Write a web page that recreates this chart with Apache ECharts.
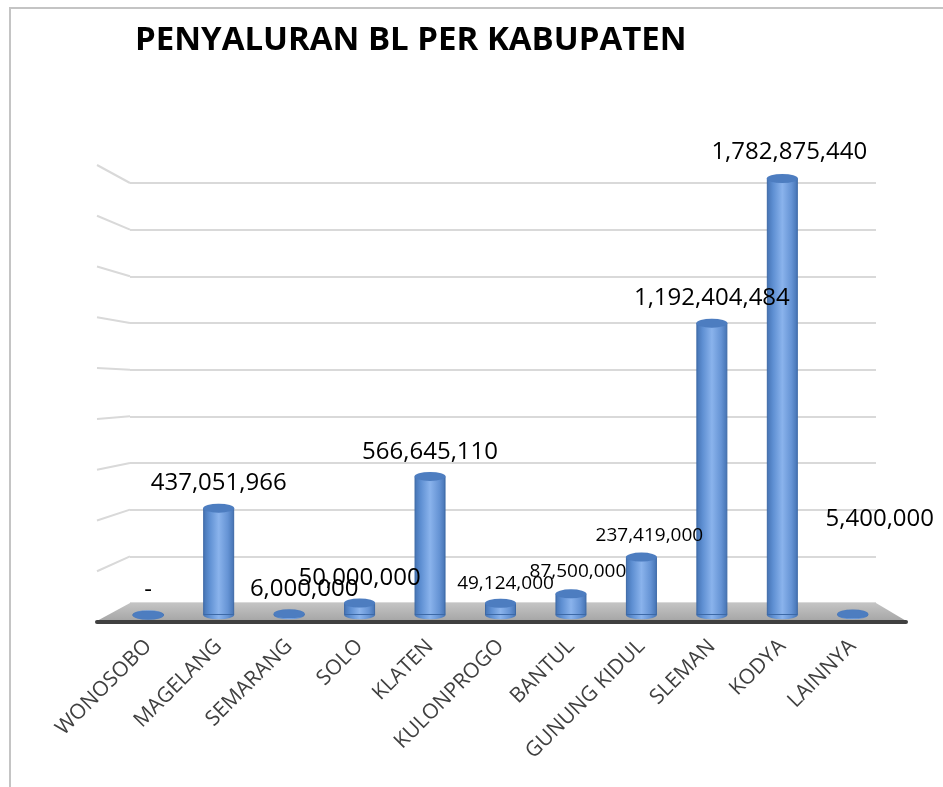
<!DOCTYPE html>
<html>
<head>
<meta charset="utf-8">
<title>Penyaluran BL per Kabupaten</title>
<script src="https://cdn.jsdelivr.net/npm/echarts@6/dist/echarts.min.js"></script>
<style>
  html, body { margin: 0; padding: 0; background: #fff; }
  #chart { width: 943px; height: 787px; }
</style>
</head>
<body>
<div id="chart"></div>
<script>
// kabupaten
var categories = ["WONOSOBO", "MAGELANG", "SEMARANG", "SOLO", "KLATEN", "KULONPROGO",
  "BANTUL", "GUNUNG KIDUL", "SLEMAN", "KODYA", "LAINNYA"];
// penyaluran BL (Rp)
var values = [0, 437051966, 6000000, 50000000, 566645110, 49124000,
  87500000, 237419000, 1192404484, 1782875440, 5400000];
// sumbu nilai
var axisMax = 1800000000;
var axisStep = 200000000;

// geser label supaya mirip posisi label di excel
var labelTweaks = {
  "SEMARANG": { offset: [15, 0] },
  "KULONPROGO": { offset: [5, 2], size: 19 },
  "BANTUL": { offset: [7, 0], size: 19 },
  "GUNUNG KIDUL": { offset: [8, 0], size: 19 },
  "KODYA": { offset: [7, -2] },
  "LAINNYA": { offset: [27, -70] }
};

function fmt(v) {
  if (v === 0) return "-";
  return String(v).replace(/\B(?=(\d{3})+(?!\d))/g, ",");
}

var barW = 31;
var cylinder = new echarts.graphic.LinearGradient(0, 0, 1, 0, [
  { offset: 0, color: "#4472b2" },
  { offset: 0.2, color: "#5e8fd2" },
  { offset: 0.5, color: "#8ab3ec" },
  { offset: 0.8, color: "#6593d4" },
  { offset: 1, color: "#4472b2" }
]);

var barData = values.map(function (v, i) {
  var t = labelTweaks[categories[i]] || {};
  var size = t.size || 24;
  return {
    value: v,
    label: { offset: t.offset || [0, 0], fontSize: size, lineHeight: Math.round(size * 1.2) }
  };
});

var chart = echarts.init(document.getElementById("chart"));

var option = {
  animation: false,
  backgroundColor: "#fff",
  title: {
    text: "PENYALURAN BL PER KABUPATEN",
    left: 130,
    top: 19,
    textStyle: { fontFamily: "Open Sans", fontWeight: "bold", fontSize: 33, color: "#000" }
  },
  grid: [
    { left: 130, right: 67, top: 183, bottom: 184 },  // dinding belakang
    { left: 113, right: 55, top: 174, bottom: 172 },  // batang
    { left: 97, right: 813, top: 165, bottom: 165 }   // tepi dinding kiri
  ],
  xAxis: [
    { gridIndex: 0, type: "category", data: categories, show: false },
    {
      gridIndex: 1, type: "category", data: categories,
      axisLine: { show: false }, axisTick: { show: false },
      axisLabel: {
        interval: 0, rotate: 45, margin: 28,
        fontFamily: "Open Sans", fontSize: 21, color: "#404040"
      }
    },
    { gridIndex: 2, type: "category", data: categories, show: false }
  ],
  yAxis: [
    {
      gridIndex: 0, type: "value", min: 0, max: axisMax, interval: axisStep,
      axisLine: { show: false }, axisTick: { show: false }, axisLabel: { show: false },
      splitLine: { lineStyle: { color: "#d9d9d9", width: 2 } }
    },
    { gridIndex: 1, type: "value", min: 0, max: axisMax, interval: axisStep, show: false, splitLine: { show: false } },
    { gridIndex: 2, type: "value", min: 0, max: axisMax, interval: axisStep, show: false, splitLine: { show: false } }
  ],
  series: [
    {
      // alas silinder
      type: "pictorialBar",
      xAxisIndex: 1, yAxisIndex: 1,
      symbol: "circle",
      symbolSize: [barW, 9],
      symbolPosition: "start",
      symbolOffset: [0, "50%"],
      itemStyle: { color: cylinder, borderColor: "#3d69a6", borderWidth: 1 },
      z: 2,
      data: values
    },
    {
      type: "bar",
      xAxisIndex: 1, yAxisIndex: 1,
      barWidth: barW,
      itemStyle: { color: cylinder, borderColor: "#3d69a6", borderWidth: 1 },
      label: {
        show: true,
        position: "top",
        distance: 10,
        fontFamily: "Open Sans",
        color: "#000",
        formatter: function (p) { return fmt(p.value); }
      },
      z: 3,
      data: barData
    },
    {
      // tutup silinder
      type: "pictorialBar",
      xAxisIndex: 1, yAxisIndex: 1,
      symbol: "circle",
      symbolSize: [barW, 9],
      symbolPosition: "end",
      symbolOffset: [0, "-50%"],
      itemStyle: { color: "#4d7dc0", borderColor: "#345e99", borderWidth: 1 },
      z: 4,
      data: values
    }
  ]
};

chart.setOption(option);

// lantai, garis depan, bingkai, dan garis dinding kiri
var floorBack = chart.convertToPixel({ gridIndex: 0 }, ["WONOSOBO", 0])[1];
var floorFront = chart.convertToPixel({ gridIndex: 2 }, ["WONOSOBO", 0])[1];
var wallX = 130, edgeX = 97, rightBack = 876, rightFront = 908;

var elements = [
  {
    type: "rect", z: -10,
    shape: { x: 10, y: 8, width: 1000, height: 1000 },
    style: { fill: "#fff", stroke: "#c4c4c4", lineWidth: 2 }
  },
  {
    type: "polygon", z: 1,
    shape: { points: [[wallX, floorBack], [rightBack, floorBack], [rightFront, floorFront], [edgeX - 2, floorFront]] },
    style: {
      fill: new echarts.graphic.LinearGradient(0, 0, 0, 1, [
        { offset: 0, color: "#c4c4c4" },
        { offset: 1, color: "#a4a4a4" }
      ])
    }
  },
  {
    type: "rect", z: 1,
    shape: { x: edgeX - 2, y: floorFront - 2, width: rightFront - edgeX + 2, height: 4, r: 2 },
    style: { fill: "#404040" }
  }
];

for (var v = axisStep; v <= axisMax; v += axisStep) {
  var yBack = chart.convertToPixel({ gridIndex: 0 }, ["WONOSOBO", v])[1];
  var yEdge = chart.convertToPixel({ gridIndex: 2 }, ["WONOSOBO", v])[1];
  elements.push({
    type: "line", z: 0,
    shape: { x1: edgeX, y1: yEdge, x2: wallX, y2: yBack },
    style: { stroke: "#d9d9d9", lineWidth: 2 }
  });
}

chart.setOption({ graphic: { elements: elements } });
</script>
</body>
</html>
